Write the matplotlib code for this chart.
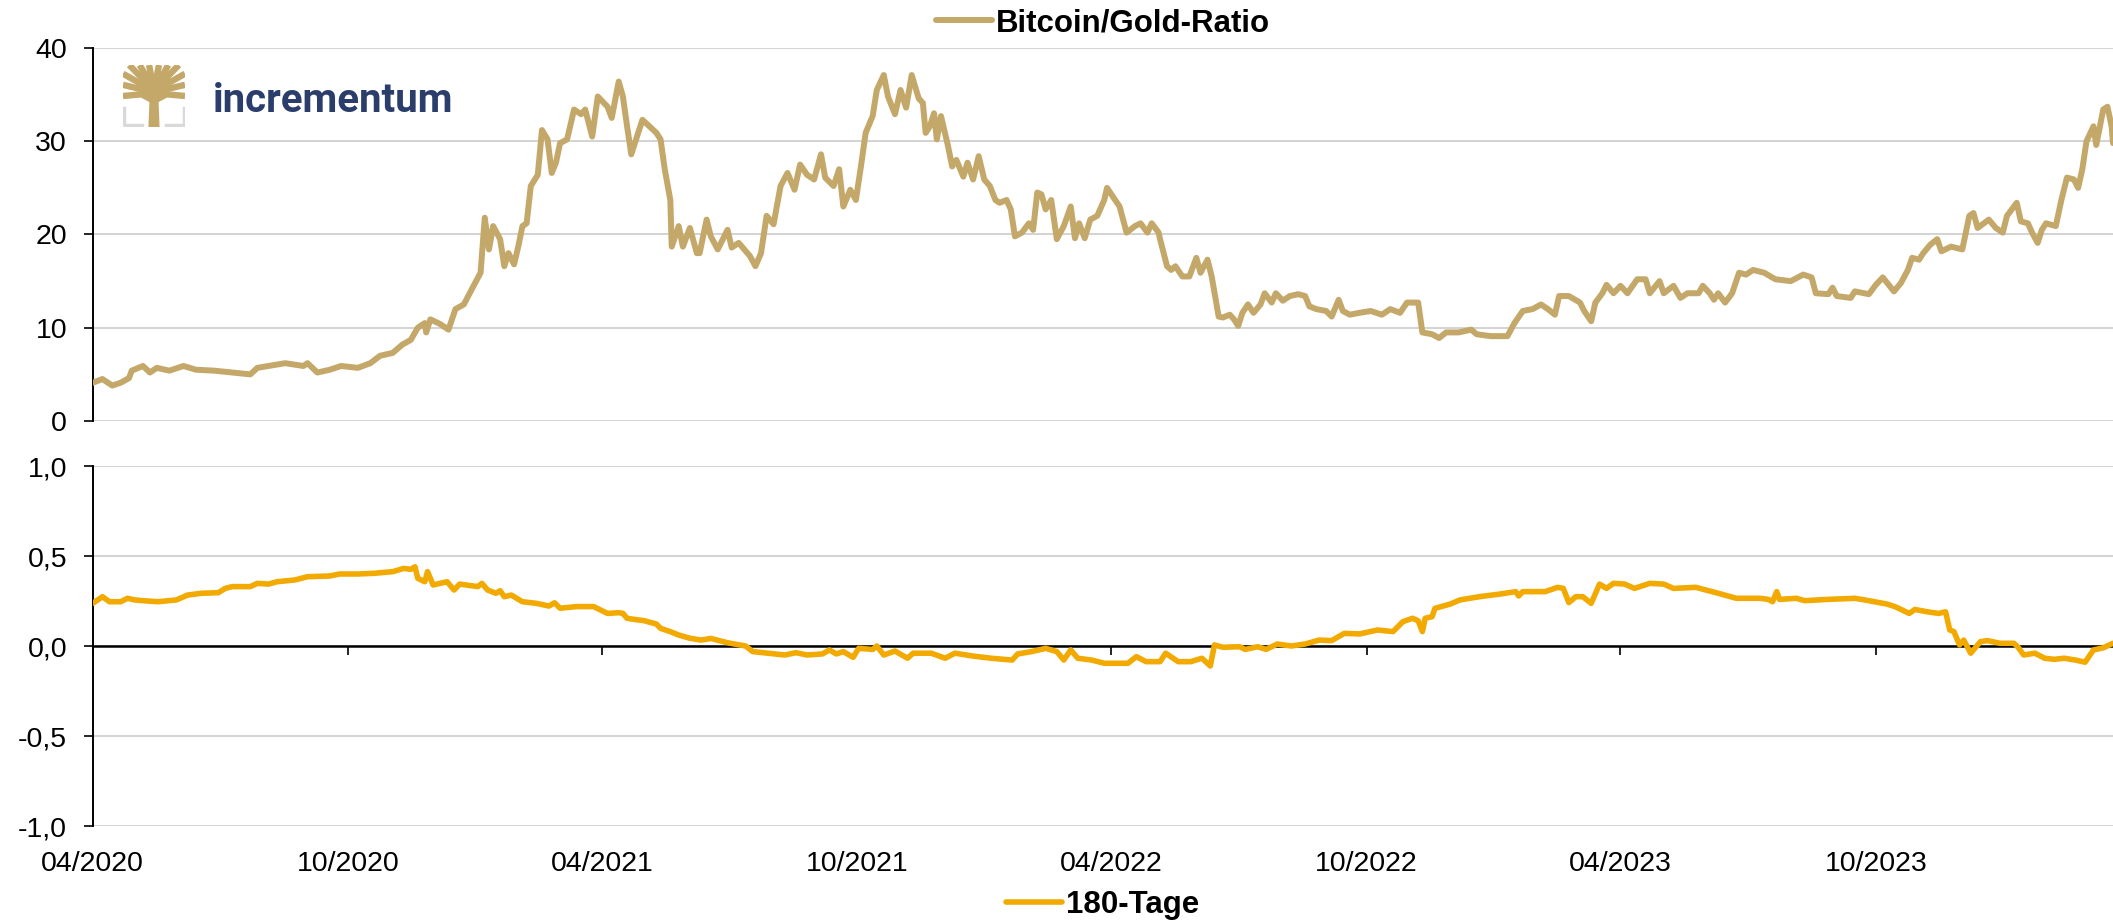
import numpy as np
import matplotlib
matplotlib.use("Agg")
import matplotlib.pyplot as plt
import matplotlib.dates as mdates
from matplotlib.ticker import FuncFormatter, MultipleLocator

plt.rcParams['font.family'] = ['Liberation Sans', 'DejaVu Sans']

# --- data (days counted from 2020-04-01) ---
start = np.datetime64('2020-04-01')
end_day = 1448

ratio_days = [0, 7, 14, 20, 26, 28, 36, 41, 46, 55, 65, 74, 87, 100, 113, 118, 126, 138, 151, 154,
              161, 170, 178, 190, 199, 206, 215, 222, 228, 233, 238, 239, 242, 249, 255, 260, 266, 273, 278, 281,
              284, 287, 292, 295, 298, 302, 305, 308, 311, 314, 319, 322, 326, 329, 332, 335, 340, 345, 350, 353,
              358, 362, 369, 372, 377, 380, 383, 386, 391, 394, 399, 404, 407, 410, 414, 415, 420, 423, 428, 433,
              435, 440, 443, 448, 455, 458, 463, 467, 471, 475, 479, 483, 488, 493, 498, 503, 507, 512, 517, 522,
              525, 531, 535, 538, 543, 547, 551, 554, 559, 562, 567, 570, 575, 579, 583, 587, 592, 595, 597, 600,
              603, 605, 608, 613, 616, 619, 624, 627, 631, 635, 639, 643, 647, 650, 655, 658, 661, 666, 671, 674,
              677, 680, 683, 687, 691, 696, 701, 704, 707, 711, 715, 720, 725, 727, 731, 736, 741, 747, 751, 756,
              759, 764, 765, 770, 773, 776, 781, 786, 791, 794, 799, 802, 807, 810, 815, 818, 821, 824, 828, 832,
              837, 840, 845, 848, 853, 858, 864, 869, 872, 877, 884, 888, 893, 896, 901, 908, 916, 924, 930, 937,
              942, 950, 953, 960, 965, 970, 979, 988, 992, 1002, 1014, 1019, 1025, 1032, 1038, 1043, 1048, 1051, 1058, 1066,
              1069, 1074, 1077, 1082, 1085, 1090, 1095, 1100, 1107, 1113, 1116, 1123, 1126, 1133, 1138, 1143, 1151, 1154, 1159, 1162,
              1165, 1170, 1175, 1180, 1185, 1190, 1198, 1206, 1217, 1226, 1232, 1235, 1244, 1247, 1250, 1260, 1263, 1273, 1278, 1283,
              1291, 1296, 1301, 1304, 1309, 1312, 1317, 1322, 1325, 1332, 1340, 1345, 1348, 1351, 1359, 1364, 1369, 1372, 1379, 1382,
              1387, 1390, 1394, 1397, 1400, 1407, 1411, 1415, 1420, 1423, 1426, 1429, 1434, 1436, 1441, 1444, 1447, 1448]
ratio_vals = [4.1, 4.5, 3.8, 4.1, 4.6, 5.4, 5.9, 5.2, 5.7, 5.4, 5.9, 5.5, 5.4, 5.2, 5.0, 5.7, 5.9, 6.2, 5.9, 6.2,
              5.2, 5.5, 5.9, 5.7, 6.2, 7.0, 7.3, 8.2, 8.7, 10.0, 10.5, 9.5, 10.9, 10.4, 9.8, 12.0, 12.5, 14.5, 15.9, 21.8,
              18.4, 20.9, 19.5, 16.6, 18.0, 16.8, 18.7, 20.9, 21.2, 25.2, 26.4, 31.2, 30.2, 26.6, 27.7, 29.8, 30.2, 33.4, 32.9, 33.4,
              30.5, 34.8, 33.7, 32.5, 36.4, 34.8, 31.6, 28.6, 30.9, 32.3, 31.6, 30.9, 30.2, 27.0, 23.7, 18.7, 20.9, 18.7, 20.7, 18.0,
              18.0, 21.6, 19.8, 18.4, 20.5, 18.6, 19.1, 18.4, 17.7, 16.6, 18.0, 22.0, 21.1, 25.2, 26.6, 24.8, 27.5, 26.4, 25.9, 28.6,
              26.1, 25.2, 27.0, 23.0, 24.8, 23.7, 27.7, 30.9, 32.7, 35.5, 37.1, 34.8, 32.9, 35.5, 33.6, 37.1, 34.6, 34.1, 30.9, 31.6,
              33.0, 30.2, 32.7, 29.5, 27.3, 28.0, 26.2, 27.7, 25.9, 28.4, 25.9, 25.2, 23.7, 23.4, 23.7, 22.7, 19.8, 20.2, 21.2, 20.5,
              24.5, 24.3, 22.7, 23.7, 19.5, 20.9, 23.0, 19.6, 21.2, 19.6, 21.6, 22.0, 23.7, 25.0, 24.1, 23.0, 20.2, 20.9, 21.2, 20.2,
              21.2, 20.2, 19.5, 16.6, 16.2, 16.6, 15.5, 15.5, 17.5, 15.9, 17.3, 15.5, 11.2, 11.1, 11.4, 10.9, 10.2, 11.6, 12.5, 11.6,
              12.5, 13.7, 12.7, 13.7, 12.9, 13.4, 13.6, 13.4, 12.3, 12.0, 11.8, 11.2, 13.0, 11.8, 11.4, 11.6, 11.8, 11.4, 12.0, 11.6,
              12.7, 12.7, 9.5, 9.3, 8.9, 9.5, 9.5, 9.8, 9.3, 9.1, 9.1, 10.5, 11.8, 12.0, 12.5, 12.0, 11.4, 13.4, 13.4, 12.7,
              11.8, 10.7, 12.7, 13.7, 14.6, 13.7, 14.5, 13.7, 15.2, 15.2, 13.7, 15.0, 13.7, 14.5, 13.2, 13.7, 13.7, 14.5, 13.7, 13.0,
              13.7, 12.7, 13.7, 15.9, 15.7, 16.2, 15.9, 15.2, 15.0, 15.7, 15.4, 13.7, 13.6, 14.3, 13.4, 13.2, 13.9, 13.6, 14.6, 15.4,
              13.9, 14.8, 16.2, 17.5, 17.3, 18.0, 18.9, 19.5, 18.2, 18.7, 18.4, 22.0, 22.3, 20.7, 21.6, 20.7, 20.2, 22.0, 23.4, 21.4,
              21.2, 20.2, 19.1, 20.5, 21.2, 20.9, 23.7, 26.1, 25.9, 25.0, 27.0, 30.0, 31.6, 29.6, 33.4, 33.7, 31.6, 29.8]

corr_days = [0, 7, 12, 20, 25, 30, 39, 47, 60, 68, 78, 90, 95, 100, 113, 118, 126, 132, 145, 154,
             170, 177, 190, 202, 215, 223, 228, 231, 233, 238, 240, 244, 254, 259, 263, 276, 279, 283, 289, 292,
             295, 300, 308, 318, 327, 331, 335, 347, 359, 364, 369, 377, 380, 383, 388, 395, 404, 407, 414, 420,
             428, 436, 443, 455, 468, 473, 484, 496, 504, 512, 523, 528, 533, 538, 545, 549, 559, 562, 567, 575,
             584, 588, 595, 601, 611, 618, 631, 644, 659, 663, 673, 683, 687, 691, 696, 701, 706, 716, 725, 742,
             748, 755, 765, 769, 778, 787, 795, 801, 804, 810, 822, 826, 835, 841, 849, 859, 869, 879, 888, 897,
             908, 921, 932, 939, 946, 950, 953, 955, 960, 962, 973, 980, 994, 1009, 1020, 1022, 1025, 1041, 1050, 1054,
             1058, 1063, 1068, 1074, 1080, 1085, 1090, 1098, 1105, 1116, 1126, 1133, 1149, 1165, 1178, 1195, 1201, 1204, 1207, 1209,
             1221, 1227, 1244, 1263, 1270, 1286, 1292, 1302, 1306, 1315, 1323, 1328, 1331, 1334, 1338, 1341, 1346, 1353, 1358, 1367,
             1377, 1380, 1384, 1392, 1399, 1406, 1413, 1421, 1428, 1434, 1441, 1448]
corr_vals = [0.237, 0.274, 0.246, 0.246, 0.265, 0.256, 0.250, 0.246, 0.256, 0.283, 0.293, 0.296, 0.320, 0.330, 0.330, 0.348, 0.344, 0.357, 0.367, 0.385,
             0.389, 0.400, 0.400, 0.404, 0.413, 0.431, 0.426, 0.440, 0.376, 0.357, 0.413, 0.339, 0.357, 0.311, 0.344, 0.330, 0.348, 0.311, 0.293, 0.307,
             0.274, 0.283, 0.246, 0.237, 0.222, 0.240, 0.210, 0.219, 0.219, 0.200, 0.181, 0.185, 0.181, 0.154, 0.148, 0.141, 0.122, 0.098, 0.080, 0.061,
             0.043, 0.033, 0.042, 0.018, 0.0, -0.031, -0.040, -0.050, -0.037, -0.050, -0.044, -0.022, -0.044, -0.031, -0.063, -0.013, -0.019, 0.0, -0.050, -0.028,
             -0.068, -0.040, -0.040, -0.040, -0.068, -0.040, -0.056, -0.068, -0.078, -0.044, -0.031, -0.013, -0.022, -0.031, -0.078, -0.022, -0.068, -0.078, -0.096, -0.096,
             -0.059, -0.087, -0.087, -0.040, -0.087, -0.087, -0.068, -0.111, 0.006, -0.007, -0.004, -0.019, -0.004, -0.019, 0.011, 0.0, 0.011, 0.033, 0.030, 0.070,
             0.067, 0.089, 0.080, 0.135, 0.154, 0.140, 0.080, 0.154, 0.163, 0.209, 0.233, 0.256, 0.274, 0.289, 0.302, 0.278, 0.302, 0.302, 0.326, 0.320,
             0.241, 0.274, 0.274, 0.237, 0.344, 0.320, 0.348, 0.344, 0.320, 0.348, 0.344, 0.320, 0.326, 0.293, 0.265, 0.265, 0.259, 0.246, 0.302, 0.259,
             0.265, 0.252, 0.259, 0.265, 0.256, 0.233, 0.218, 0.181, 0.203, 0.190, 0.181, 0.190, 0.089, 0.080, 0.006, 0.033, -0.040, 0.024, 0.030, 0.015,
             0.015, -0.007, -0.050, -0.040, -0.068, -0.074, -0.068, -0.078, -0.090, -0.022, -0.010, 0.015]

tick_dates = ['2020-04-01', '2020-10-01', '2021-04-01', '2021-10-01', '2022-04-01',
              '2022-10-01', '2023-04-01', '2023-10-01']

ratio_label = 'Bitcoin/Gold-Ratio'
corr_label = '180-Tage'

GOLD = '#C4A86A'
ORANGE = '#F2A900'
GRID = '#D3D3D3'
NAVY = '#2B3E6B'

ratio_x = start + np.array(ratio_days).astype('timedelta64[D]')
corr_x = start + np.array(corr_days).astype('timedelta64[D]')
x_end = start + np.timedelta64(end_day, 'D')
ticks = np.array(tick_dates, dtype='datetime64[D]')

W, H = 2113, 921
fig = plt.figure(figsize=(W / 100, H / 100), dpi=100)

left = 92.7 / W
ax1 = fig.add_axes([left, 1 - 421 / H, 1 - left, (421 - 48) / H])
ax2 = fig.add_axes([left, 1 - 826 / H, 1 - left, (826 - 466) / H])

# upper panel: the ratio
ax1.plot(ratio_x, ratio_vals, color=GOLD, lw=4.3, solid_joinstyle='round',
         solid_capstyle='round', label=ratio_label, zorder=3)
ax1.set_ylim(0, 40)
ax1.yaxis.set_major_locator(MultipleLocator(10))
ax1.set_xlim(start, x_end)
ax1.grid(axis='y', color=GRID, lw=1.4)
ax1.set_axisbelow(True)
for s in ['top', 'right', 'bottom']:
    ax1.spines[s].set_visible(False)
ax1.spines['left'].set_linewidth(1.4)
ax1.tick_params(axis='y', length=6.5, width=1.2, pad=12, labelsize=20.5)
ax1.tick_params(axis='x', bottom=False, labelbottom=False)
ax1.legend(loc='center', bbox_to_anchor=(0.5, 1.067), frameon=False,
           prop={'weight': 'bold', 'size': 22.5}, handlelength=1.8,
           handletextpad=0.12, borderpad=0)

# lower panel: the correlation
ax2.plot(corr_x, corr_vals, color=ORANGE, lw=4.0, solid_joinstyle='round',
         solid_capstyle='round', label=corr_label, zorder=3)
ax2.set_ylim(-1, 1)
ax2.yaxis.set_major_locator(MultipleLocator(0.5))
ax2.yaxis.set_major_formatter(FuncFormatter(lambda v, p: f'{v:.1f}'.replace('.', ',')))
ax2.set_xlim(start, x_end)
ax2.grid(axis='y', color=GRID, lw=1.4)
ax2.set_axisbelow(True)
for s in ['top', 'right']:
    ax2.spines[s].set_visible(False)
ax2.spines['left'].set_linewidth(1.4)
ax2.spines['bottom'].set_position(('data', 0))
ax2.spines['bottom'].set_linewidth(1.8)
ax2.spines['bottom'].set_zorder(2)
ax2.set_xticks(ticks)
ax2.tick_params(axis='x', length=6.5, width=1.2, labelbottom=False)
ax2.tick_params(axis='y', length=6.5, width=1.2, pad=12, labelsize=20.5)

sec = ax2.secondary_xaxis('bottom')
sec.set_xticks(mdates.date2num(ticks))
sec.xaxis.set_major_formatter(mdates.DateFormatter('%m/%Y'))
sec.tick_params(axis='x', length=0, pad=18, labelsize=20.5)
sec.spines['bottom'].set_visible(False)

ax2.legend(loc='center', bbox_to_anchor=(0.5, -0.219), frameon=False,
           prop={'weight': 'bold', 'size': 22.5}, handlelength=1.8,
           handletextpad=0.12, borderpad=0)

# logo: stylised tree with grey corner brackets
logo = fig.add_axes([123 / W, 1 - 127 / H, 62 / W, 62 / H])
logo.set_xlim(0, 1)
logo.set_ylim(0, 1)
logo.axis('off')
logo.fill([0.41, 0.59, 0.57, 0.43], [0, 0, 0.5, 0.5], color=GOLD, lw=0)
tips = [(0.0, 0.5), (0.0, 0.68), (0.0, 0.86), (0.1, 1.0), (0.27, 1.0), (0.42, 1.0),
        (0.58, 1.0), (0.73, 1.0), (0.9, 1.0), (1.0, 0.86), (1.0, 0.68), (1.0, 0.5)]
for tx, ty in tips:
    mx = 0.5 + (tx - 0.5) * 0.4
    logo.plot([0.5, mx, tx], [0.42, 0.55 + (ty - 0.55) * 0.45, ty], color=GOLD,
              lw=4.6, solid_capstyle='butt', solid_joinstyle='round')
logo.plot([0.02, 0.02, 0.3], [0.3, 0.03, 0.03], color='#D9D9D9', lw=2.5)
logo.plot([0.7, 0.98, 0.98], [0.03, 0.03, 0.3], color='#D9D9D9', lw=2.5)
fig.text(213 / W, 1 - 112 / H, 'incrementum', family=['Roboto', 'DejaVu Sans'],
         weight='bold', size=29, color=NAVY, va='baseline', ha='left')

fig.savefig('out.png', dpi=100)
